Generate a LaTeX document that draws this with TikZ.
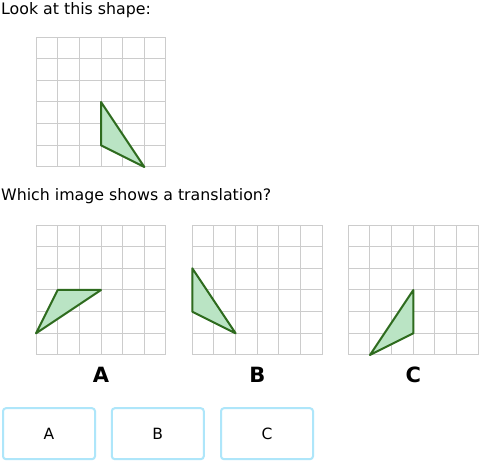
\documentclass[tikz,border=0pt]{standalone}
\usepackage{fontspec}
\setmainfont{DejaVu Sans}
\definecolor{gridc}{HTML}{CCCCCC}
\definecolor{triline}{HTML}{2E6B1E}
\definecolor{trifill}{HTML}{BAE4C4}
\definecolor{btnc}{HTML}{AEE6FA}
\begin{document}
\begin{tikzpicture}[x=1pt,y=-1pt,
  gridline/.style={draw=gridc,line width=1pt},
  tri/.style={draw=triline,fill=trifill,line width=2pt,line join=round},
  qtext/.style={anchor=base west,inner sep=0pt,font=\fontsize{15.8}{19}\selectfont},
  biglabel/.style={anchor=base,inner sep=0pt,font=\fontsize{21}{25}\selectfont\bfseries},
  btn/.style={draw=btnc,line width=2pt,rounded corners=3pt,minimum width=92pt,minimum height=51pt,inner sep=0pt,font=\fontsize{15.5}{19}\selectfont}]
\useasboundingbox (0,0) rectangle (480,462);
\fill[white] (0,0) rectangle (480,462);
\node[qtext] (q1) at (1,14.5) {Look at this shape:};
\begin{scope}[shift={(36pt,-167pt)},x=21.667pt,y=21.667pt]
  \draw[gridline] (0,0) grid[step=1] (6,6);
  \draw[tri] (3,3) -- (3,1) -- (5,0) -- cycle;
\end{scope}
\node[qtext] (q2) at (1,201) {Which image shows a translation?};
\begin{scope}[shift={(36pt,-355pt)},x=21.667pt,y=21.667pt]
  \draw[gridline] (0,0) grid[step=1] (6,6);
  \draw[tri] (0,1) -- (1,3) -- (3,3) -- cycle;
\end{scope}
\begin{scope}[shift={(192.3pt,-355pt)},x=21.667pt,y=21.667pt]
  \draw[gridline] (0,0) grid[step=1] (6,6);
  \draw[tri] (0,4) -- (0,2) -- (2,1) -- cycle;
\end{scope}
\begin{scope}[shift={(348.3pt,-355pt)},x=21.667pt,y=21.667pt]
  \draw[gridline] (0,0) grid[step=1] (6,6);
  \draw[tri] (1,0) -- (3,3) -- (3,1) -- cycle;
\end{scope}
\node[biglabel] (la) at (101,382.7) {A};
\node[biglabel] (lb) at (257.3,382.7) {B};
\node[biglabel] (lc) at (413.3,382.7) {C};
\node[btn] (ba) at (49,433.7) {A};
\node[btn] (bb) at (157.8,433.7) {B};
\node[btn] (bc) at (267,433.7) {C};
\end{tikzpicture}
\end{document}
